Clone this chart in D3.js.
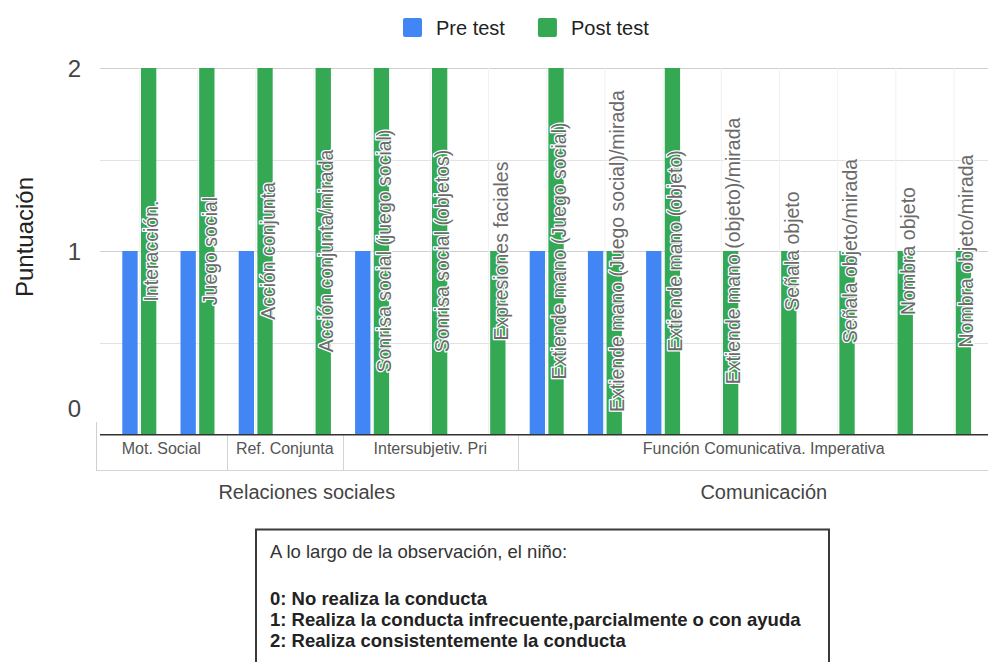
<!DOCTYPE html>
<html>
<head>
<meta charset="utf-8">
<script src="https://cdn.jsdelivr.net/npm/d3@7"></script>
<style>
  html, body { margin: 0; padding: 0; background: #ffffff; }
  svg { display: block; font-family: "Liberation Sans", Arial, sans-serif; }
</style>
</head>
<body>
<svg id="chart" width="988" height="662"></svg>
<script>
// ---- data ----
const categories = [
  "Interacción.",
  "Juego social",
  "Acción conjunta",
  "Acción conjunta/mirada",
  "Sonrisa social (juego social)",
  "Sonrisa social (objetos)",
  "Expresiones faciales",
  "Extiende mano (Juego social)",
  "Extiende mano (Juego social)/mirada",
  "Extiende mano (objeto)",
  "Extiende mano (objeto)/mirada",
  "Señala objeto",
  "Señala objeto/mirada",
  "Nombra objeto",
  "Nombra objeto/mirada"
];
const preTest  = [1, 1, 1, 0, 1, 0, 0, 1, 1, 1, 0, 0, 0, 0, 0];
const postTest = [2, 2, 2, 2, 2, 2, 1, 2, 1, 2, 1, 1, 1, 1, 1];
const seriesNames = ["Pre test", "Post test"];

const subgroupNames = ["Mot. Social", "Ref. Conjunta", "Intersubjetiv. Pri", "Función Comunicativa. Imperativa"];
const subgroupSizes = [2, 2, 3, 8];
const groupNames = ["Relaciones sociales", "Comunicación"];
const groupSizes = [7, 8];

const yTicks = [0, 1, 2];
const gridValues = [0.5, 1, 1.5, 2];
const yTitle = "Puntuación";

const noteTitle = "A lo largo de la observación, el niño:";
const noteLines = [
  "0: No realiza la conducta",
  "1: Realiza la conducta infrecuente,parcialmente o con ayuda",
  "2: Realiza consistentemente la conducta"
];

// ---- layout ----
const W = 988, H = 662;
const colors = { "Pre test": "#4285f4", "Post test": "#34a853" };
const frame = { left: 96, right: 1010 };
const svg = d3.select("#chart");

const x = d3.scaleBand()
  .domain(categories)
  .range([110.2, 110.2 + 58.2 * categories.length])
  .paddingInner(0.416)
  .paddingOuter(0.208);

const xs = d3.scaleBand()
  .domain(seriesNames)
  .range([0, x.bandwidth()])
  .paddingInner(0.18);

const y = d3.scaleLinear().domain([0, 2]).range([434, 68]);

const rows = categories.map((c, i) => ({ cat: c, "Pre test": preTest[i], "Post test": postTest[i] }));
const catCenter = c => x(c) + x.bandwidth() / 2;

// gridlines
svg.append("g").selectAll("line")
  .data(gridValues)
  .join("line")
  .attr("x1", frame.left + 4).attr("x2", W)
  .attr("y1", d => Math.round(y(d)) + 0.5).attr("y2", d => Math.round(y(d)) + 0.5)
  .attr("stroke", d => d % 1 === 0 ? "#cfcfcf" : "#e2e2e2")
  .attr("stroke-width", 1);

// faint guide line under each category label
svg.append("g").selectAll("line")
  .data(categories)
  .join("line")
  .attr("x1", c => catCenter(c)).attr("x2", c => catCenter(c))
  .attr("y1", y(2)).attr("y2", y(0))
  .attr("stroke", "#f1f1f1")
  .attr("stroke-width", 1);

// bars
const barGroups = svg.append("g").selectAll("g")
  .data(rows)
  .join("g")
  .attr("transform", d => `translate(${x(d.cat)},0)`);

barGroups.selectAll("rect")
  .data(d => seriesNames.map(s => ({ key: s, value: d[s] })))
  .join("rect")
  .attr("x", d => xs(d.key))
  .attr("width", xs.bandwidth())
  .attr("y", d => y(d.value))
  .attr("height", d => y(0) - y(d.value))
  .attr("fill", d => colors[d.key]);

// category labels written along each category
const midY = (y(0) + y(2)) / 2;
svg.append("g").selectAll("text")
  .data(categories)
  .join("text")
  .attr("transform", c => `translate(${catCenter(c) + 19},${midY}) rotate(-90)`)
  .attr("text-anchor", "middle")
  .attr("font-size", 19.5)
  .attr("fill", "#6a6a6a")
  .attr("stroke", "#ffffff")
  .attr("stroke-width", 2.5)
  .attr("stroke-linejoin", "round")
  .attr("paint-order", "stroke")
  .text(c => c);

// y tick labels (the zero label is lifted clear of the category band)
svg.append("g").selectAll("text")
  .data(yTicks)
  .join("text")
  .attr("x", 81)
  .attr("y", v => Math.min(y(v), y(0) - 26))
  .attr("dy", "0.36em")
  .attr("text-anchor", "end")
  .attr("font-size", 24)
  .attr("fill", "#444")
  .text(v => v);

// y axis title
svg.append("text")
  .attr("transform", `translate(25,${237}) rotate(-90)`)
  .attr("text-anchor", "middle")
  .attr("dy", "0.35em")
  .attr("font-size", 24)
  .attr("fill", "#222")
  .text(yTitle);

// ---- category axis with two label levels ----
const axisG = svg.append("g");
const rowBottom = 470;

function edgesFor(sizes) {
  const edges = [frame.left];
  let k = 0;
  sizes.forEach((s, i) => {
    k += s;
    edges.push(i === sizes.length - 1 ? frame.right : x(categories[k]) - x.step() * x.paddingInner() / 2);
  });
  return edges;
}
const subEdges = edgesFor(subgroupSizes);
const groupEdges = edgesFor(groupSizes);

axisG.append("line")
  .attr("x1", frame.left + 0.5).attr("x2", frame.left + 0.5)
  .attr("y1", y(0) - 12).attr("y2", rowBottom)
  .attr("stroke", "#cfcfcf");

axisG.append("line")
  .attr("x1", frame.left).attr("x2", W)
  .attr("y1", rowBottom + 0.5).attr("y2", rowBottom + 0.5)
  .attr("stroke", "#d4d4d4");

axisG.selectAll("line.div")
  .data(subEdges.slice(1, -1))
  .join("line")
  .attr("class", "div")
  .attr("x1", d => Math.round(d) + 0.5).attr("x2", d => Math.round(d) + 0.5)
  .attr("y1", y(0)).attr("y2", rowBottom)
  .attr("stroke", "#d4d4d4");

axisG.selectAll("text.sub")
  .data(subgroupNames)
  .join("text")
  .attr("class", "sub")
  .attr("x", (d, i) => (subEdges[i] + subEdges[i + 1]) / 2)
  .attr("y", 454)
  .attr("text-anchor", "middle")
  .attr("font-size", 16)
  .attr("fill", "#555")
  .text(d => d);

axisG.selectAll("text.grp")
  .data(groupNames)
  .join("text")
  .attr("class", "grp")
  .attr("x", (d, i) => (groupEdges[i] + groupEdges[i + 1]) / 2)
  .attr("y", 499)
  .attr("text-anchor", "middle")
  .attr("font-size", 20)
  .attr("fill", "#444")
  .text(d => d);

// baseline
axisG.append("line")
  .attr("x1", frame.left + 4).attr("x2", W)
  .attr("y1", y(0) + 0.75).attr("y2", y(0) + 0.75)
  .attr("stroke", "#333")
  .attr("stroke-width", 1.5);

// ---- legend ----
const legend = svg.append("g");
const legendItems = legend.selectAll("g")
  .data(seriesNames)
  .join("g");
legendItems.append("rect")
  .attr("width", 19).attr("height", 19).attr("rx", 2)
  .attr("y", 18)
  .attr("fill", d => colors[d]);
legendItems.append("text")
  .attr("x", 33).attr("y", 28)
  .attr("dy", "0.35em")
  .attr("font-size", 20)
  .attr("fill", "#222")
  .text(d => d);
let lx = 403;
legendItems.each(function () {
  const g = d3.select(this);
  g.attr("transform", `translate(${lx},0)`);
  lx += 33 + g.select("text").node().getComputedTextLength() + 33;
});

// ---- scoring note box ----
const note = svg.append("g");
note.append("rect")
  .attr("x", 256).attr("y", 529.5)
  .attr("width", 573).attr("height", 160)
  .attr("fill", "#fff")
  .attr("stroke", "#3a3a3a")
  .attr("stroke-width", 2);
note.append("text")
  .attr("x", 270).attr("y", 558)
  .attr("font-size", 18.5)
  .attr("fill", "#333")
  .text(noteTitle);
note.selectAll("text.line")
  .data(noteLines)
  .join("text")
  .attr("class", "line")
  .attr("x", 270)
  .attr("y", (d, i) => 605 + i * 21)
  .attr("font-size", 18.5)
  .attr("font-weight", "bold")
  .attr("fill", "#222")
  .text(d => d);
</script>
</body>
</html>
